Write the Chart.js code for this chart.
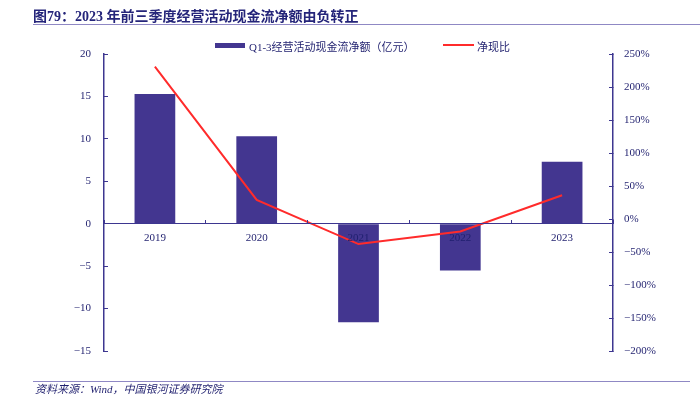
<!DOCTYPE html>
<html>
<head>
<meta charset="utf-8">
<script src="https://cdn.jsdelivr.net/npm/chart.js@4"></script>
<style>
  body { margin: 0; background: #fff; }
  #wrap { position: relative; width: 700px; height: 396px; overflow: hidden; font-family: "Liberation Serif", "Noto Sans CJK SC", serif; color: #1f1f6e; }
  #wrap canvas { position: absolute; left: 0; top: 0; }
  .title { position: absolute; left: 33px; top: 5px; font-size: 14px; font-weight: bold; color: #25257a; white-space: nowrap; }
  .rule { position: absolute; height: 1px; background: #8f88c4; }
  .source { position: absolute; left: 35px; top: 383px; font-size: 11px; line-height: 12px; font-style: italic; white-space: nowrap; }
  .leg { position: absolute; font-size: 11px; white-space: nowrap; top: 38px; }
  .sw { position: absolute; }
</style>
</head>
<body>
<div id="wrap">
  <canvas id="chart" width="700" height="396"></canvas>
  <div class="title">图79：2023 年前三季度经营活动现金流净额由负转正</div>
  <div class="rule" style="left:33px; top:24px; width:667px;"></div>
  <div class="sw" style="left:215px; top:43px; width:30px; height:5px; background:#433690;"></div>
  <div class="leg" style="left:249px;">Q1-3经营活动现金流净额（亿元）</div>
  <div class="sw" style="left:443px; top:44px; width:31px; height:2px; background:#ff2b2b;"></div>
  <div class="leg" style="left:477px;">净现比</div>
  <div class="rule" style="left:33px; top:381px; width:657px;"></div>
  <div class="source">资料来源：Wind，中国银河证券研究院</div>
</div>
<script>
const years = ["2019", "2020", "2021", "2022", "2023"];
const cashFlow = [15.3, 10.3, -11.6, -5.5, 7.3]; // 亿元
const cashRatio = [231, 29, -38, -19, 36];       // %
const leftTicks = [-15, 20, 5];
const rightTicks = [-200, 250, 50];

const axisColor = "#3d3690";
const textColor = "#1f1f6e";
const minus = v => String(v).replace("-", "\u2212");

const ctx = document.getElementById("chart").getContext("2d");
new Chart(ctx, {
  data: {
    labels: years,
    datasets: [
      {
        type: "line",
        label: "净现比",
        data: cashRatio,
        yAxisID: "y1",
        borderColor: "#ff2b2b",
        borderWidth: 2,
        pointRadius: 0,
        tension: 0,
        order: 0
      },
      {
        type: "bar",
        label: "Q1-3经营活动现金流净额（亿元）",
        data: cashFlow,
        yAxisID: "y",
        backgroundColor: "#433690",
        categoryPercentage: 1,
        barPercentage: 0.4,
        order: 1
      }
    ]
  },
  options: {
    responsive: false,
    animation: false,
    layout: { padding: { left: 0, right: 0, top: 54, bottom: 45 } },
    plugins: { legend: { display: false }, tooltip: { enabled: false } },
    scales: {
      x: {
        position: { y: 0 },
        offset: true,
        grid: { drawOnChartArea: false, offset: true, tickLength: -4, color: axisColor, z: 1 },
        border: { color: axisColor, width: 1, z: 1 },
        ticks: { z: 1, autoSkip: false, maxRotation: 0, color: textColor, padding: 12, font: { family: "Liberation Serif", size: 11 } },
        afterFit: s => { s.height = 0; }
      },
      y: {
        position: "left",
        min: leftTicks[0],
        max: leftTicks[1],
        ticks: { stepSize: leftTicks[2], color: textColor, padding: 17, callback: v => minus(v), font: { family: "Liberation Serif", size: 11 } },
        grid: { drawOnChartArea: false, tickLength: -4, color: axisColor },
        border: { color: axisColor, width: 1.5 },
        afterFit: s => { s.width = 104; }
      },
      y1: {
        position: "right",
        min: rightTicks[0],
        max: rightTicks[1],
        ticks: { stepSize: rightTicks[2], color: textColor, padding: 15, callback: v => minus(v) + "%", font: { family: "Liberation Serif", size: 11 } },
        grid: { drawOnChartArea: false, tickLength: -4, color: axisColor },
        border: { color: axisColor, width: 1.5 },
        afterFit: s => { s.width = 87; }
      }
    }
  }
});
</script>
</body>
</html>
